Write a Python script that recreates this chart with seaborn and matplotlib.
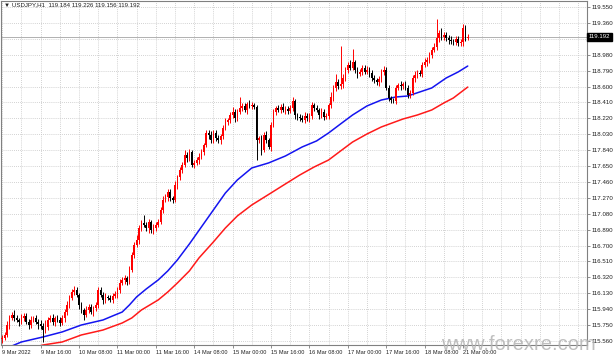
import numpy as np
import pandas as pd
import seaborn as sns
import matplotlib.pyplot as plt

# USDJPY H1, 9 Mar 2022 00:00 .. 21 Mar 2022 02:00 (one close per hourly bar)
first_open = 115.580
closes = [
    115.596, 115.632, 115.751, 115.835, 115.871,
    115.835, 115.811, 115.787, 115.835, 115.859, 115.787, 115.751, 115.811, 115.835, 115.787,
    115.763, 115.739, 115.691, 115.727, 115.811, 115.835, 115.787, 115.835, 115.811, 115.775,
    115.835, 115.906, 115.990, 116.074, 116.145,
    116.169,
    116.110, 115.990, 115.930, 115.871,
    115.930, 115.966, 115.906, 115.954, 115.990,
    116.169,
    116.110, 116.050, 116.086, 116.074, 116.050, 116.098, 116.122, 116.169,
    116.253, 116.289, 116.313, 116.265, 116.408,
    116.587, 116.707, 116.767,
    116.910, 116.970,
    116.946, 116.910, 116.982, 116.886, 116.910, 116.946, 116.982,
    117.125, 117.245, 117.280,
    117.340, 117.268, 117.245,
    117.424, 117.519, 117.603,
    117.663, 117.782, 117.746, 117.818, 117.663,
    117.687, 117.722, 117.758, 117.818,
    117.902, 118.045,
    118.021, 117.961, 118.045, 117.985, 117.961, 118.009,
    118.105, 118.176, 118.200,
    118.260, 118.296, 118.224,
    118.296,
    118.344, 118.368, 118.320, 118.391, 118.368, 118.379,
    118.356,
    117.961,
    117.985, 117.842, 118.021, 117.961, 117.878,
    118.141, 118.296,
    118.344, 118.320, 118.356, 118.320, 118.332, 118.308, 118.344,
    118.427,
    118.260,
    118.236, 118.224, 118.200, 118.248, 118.224, 118.248,
    118.379,
    118.344, 118.320, 118.260, 118.296, 118.236, 118.248,
    118.379, 118.475,
    118.583, 118.654, 118.606,
    118.630, 118.702,
    118.798, 118.857, 118.822,
    118.893,
    118.798, 118.750, 118.774,
    118.822, 118.774, 118.798,
    118.762, 118.702, 118.678,
    118.654, 118.690,
    118.774, 118.798,
    118.583, 118.463,
    118.439, 118.427,
    118.583, 118.618,
    118.606, 118.630, 118.583,
    118.499, 118.523,
    118.702,
    118.738, 118.762, 118.750,
    118.857, 118.893, 118.917,
    118.977, 119.037, 119.072,
    119.180, 119.240,
    119.192, 119.216, 119.180,
    119.156, 119.144, 119.132, 119.168,
    119.120, 119.132,
    119.299, 119.184,
    119.192,
]

# wick lengths in pips above / below the candle body
up_wick = [
    4, 3, 5, 3, 4, 6, 3, 2, 5, 3,
    4, 3, 5, 2, 4, 3, 5, 4, 8, 3,
    3, 5, 2, 4, 3, 3, 4, 5, 3, 4,
    5, 3, 2, 4, 3, 5, 4, 3, 2, 4,
    3, 4, 3, 5, 2, 4, 3, 3, 4, 5,
    3, 4, 2, 5, 4, 3, 6, 3, 4, 9,
    3, 4, 2, 5, 3, 4, 3, 5, 4, 3,
    4, 3, 5, 2, 4, 3, 6, 4, 3, 2,
    3, 4, 5, 3, 2, 4, 3, 5, 4, 3,
    4, 2, 3, 5, 3, 4, 6, 3, 4, 13,
    3, 4, 2, 5, 4, 3, 2, 3, 4, 3,
    5, 3, 4, 3, 2, 4, 3, 5, 4, 3,
    4, 5, 3, 2, 4, 3, 5, 4, 3, 4,
    3, 4, 2, 5, 3, 4, 3, 6, 4, 10,
    4, 46, 5, 3, 4, 6, 16, 3, 4, 3,
    4, 3, 5, 3, 4, 3, 2, 4, 3, 5,
    3, 4, 2, 3, 4, 3, 5, 3, 4, 3,
    4, 3, 5, 4, 3, 4, 5, 3, 4, 3,
    5, 23, 4, 6, 3, 4, 3, 5, 2, 4,
    3, 4, 5, 4, 3.4,
]
low_wick = [
    4, 3, 2, 5, 3, 4, 3, 5, 2, 4,
    3, 5, 4, 3, 2, 6, 4, 14, 3, 4,
    3, 4, 5, 2, 4, 3, 5, 4, 3, 2,
    4, 3, 5, 4, 6, 3, 4, 2, 5, 3,
    4, 3, 5, 4, 3, 2, 4, 3, 5, 4,
    3, 5, 4, 3, 2, 4, 3, 5, 4, 3,
    4, 6, 3, 5, 4, 3, 2, 4, 3, 5,
    3, 4, 2, 5, 3, 4, 3, 5, 4, 3,
    4, 3, 5, 2, 4, 3, 5, 4, 3, 4,
    3, 5, 4, 2, 3, 4, 3, 5, 4, 3,
    4, 3, 5, 2, 4, 3, 24, 4, 6, 3,
    4, 3, 5, 2, 4, 3, 4, 3, 5, 4,
    3, 4, 5, 3, 4, 2, 3, 4, 5, 3,
    4, 3, 5, 4, 3, 2, 4, 3, 5, 4,
    3, 4, 5, 3, 4, 2, 3, 4, 5, 3,
    4, 3, 2, 5, 4, 3, 4, 5, 3, 4,
    3, 4, 3, 2, 4, 3, 5, 4, 3, 3,
    4, 3, 5, 4, 3, 4, 2, 5, 3, 4,
    3, 4, 5, 3, 4, 3, 5, 4, 3, 4,
    3, 4, 5, 4, 2.8,
]

# moving averages, sampled at bar indices
blue_idx = [0, 8, 17, 25, 33, 42, 46, 50, 53, 56, 60, 65, 69, 73, 78, 83, 88, 93, 98, 104,
            111, 118, 125, 131, 136, 141, 146, 152, 158, 164, 169, 174, 179, 185, 190, 194]
blue_ma = [115.452, 115.548, 115.608, 115.668, 115.751, 115.811, 115.859, 115.906, 115.990, 116.086,
           116.181, 116.289, 116.397, 116.528, 116.719, 116.922, 117.125, 117.328, 117.484, 117.627,
           117.687, 117.770, 117.878, 117.950, 118.045, 118.153, 118.260, 118.368, 118.439, 118.475,
           118.487, 118.535, 118.583, 118.702, 118.774, 118.845]
red_idx = [9, 17, 25, 33, 42, 50, 54, 58, 65, 69, 73, 78, 82, 88, 93, 98, 104, 112, 118, 124,
           130, 136, 141, 146, 152, 158, 167, 173, 179, 184, 188, 194]
red_ma = [115.452, 115.512, 115.548, 115.632, 115.691, 115.775, 115.835, 115.930, 116.050, 116.145,
          116.253, 116.397, 116.552, 116.743, 116.910, 117.054, 117.185, 117.328, 117.436, 117.543,
          117.639, 117.722, 117.830, 117.937, 118.033, 118.117, 118.212, 118.260, 118.320, 118.403,
          118.463, 118.594]

ytick_vals = [115.560, 115.750, 115.940, 116.130, 116.320, 116.510, 116.700, 116.890, 117.080, 117.270,
              117.460, 117.650, 117.840, 118.030, 118.220, 118.410, 118.600, 118.790, 118.980, 119.170,
              119.360, 119.550]
xtick_labels = ["9 Mar 2022", "9 Mar 16:00", "10 Mar 08:00", "11 Mar 00:00", "11 Mar 16:00",
                "14 Mar 08:00", "15 Mar 00:00", "15 Mar 16:00", "16 Mar 08:00", "17 Mar 00:00",
                "17 Mar 16:00", "18 Mar 08:00", "21 Mar 00:00"]
last_price = 119.192
header = "\u25bc USDJPY,H1  119.184 119.226 119.156 119.192"

df = pd.DataFrame({"close": closes, "up": up_wick, "dn": low_wick})
df["open"] = [first_open] + closes[:-1]
df["top"] = df[["open", "close"]].max(axis=1)
df["bot"] = df[["open", "close"]].min(axis=1)
df["high"] = df["top"] + df["up"] / 100
df["low"] = df["bot"] - df["dn"] / 100
df["color"] = np.where(df["close"] >= df["open"], "#ff0000", "#000000")
df["i"] = np.arange(len(df))

sns.set_style("white")
plt.rcParams["font.family"] = ["Liberation Sans", "DejaVu Sans"]
fig = plt.figure(figsize=(6.14, 3.59), dpi=100)
ax = fig.add_axes([1 / 614, 14 / 359, 586 / 614, 344 / 359])

grid_kw = dict(color="#c4c4c4", lw=0.6, ls=(0, (1, 1.5)), zorder=0)
for g in range(0, 244, 8):
    ax.axvline(g, **grid_kw)
for v in ytick_vals:
    ax.axhline(v, **grid_kw)
ax.axhline(last_price, color="#b0b0b0", lw=0.7, zorder=1)

ax.vlines(df["i"], df["low"], df["high"], colors=df["color"], lw=0.7, zorder=3)
ax.bar(df["i"], np.maximum(df["top"] - df["bot"], 0.004), bottom=df["bot"],
       width=0.65, color=df["color"], linewidth=0, zorder=4)

sns.lineplot(x=blue_idx, y=blue_ma, ax=ax, color="#1414f0", linewidth=1.1, zorder=2)
sns.lineplot(x=red_idx, y=red_ma, ax=ax, color="#ff1a1a", linewidth=1.1, zorder=2)

ax.set_xlim(-0.5, 243.7)
ax.set_ylim(115.512, 119.622)

ax.yaxis.tick_right()
ax.set_yticks(ytick_vals)
ax.set_yticklabels(["" if abs(v - 119.17) < 1e-6 else f"{v:.3f}" for v in ytick_vals])
ax.set_xticks(range(0, 16 * len(xtick_labels), 16))
ax.set_xticklabels(xtick_labels, ha="left")
ax.tick_params(axis="both", labelsize=4.4, length=2, width=0.5, color="#606060",
               labelcolor="#202020", pad=1.5)
ax.tick_params(axis="x", labelsize=4.1)
ax.tick_params(axis="y", right=True, left=False)
ax.tick_params(axis="x", bottom=True)
for s in ax.spines.values():
    s.set_color("#808080")
    s.set_linewidth(0.8)
ax.set_xlabel("")
ax.set_ylabel("")

ax.text(1.003, last_price, f"{last_price:.3f}", transform=ax.get_yaxis_transform(),
        color="white", fontsize=4.4, va="center", ha="left", zorder=10, clip_on=False,
        bbox=dict(boxstyle="square,pad=0.25", fc="black", ec="black"))

fig.text(4 / 614, 1 - 5 / 359, header, fontsize=4.4, va="center", ha="left", color="#202020")
fig.text(441 / 614, 1 - 344 / 359, "www.forexre.com", fontsize=14.5, va="center", ha="left",
         color="#b4b4b4", alpha=0.85)

fig.savefig("out.png", dpi=100)
